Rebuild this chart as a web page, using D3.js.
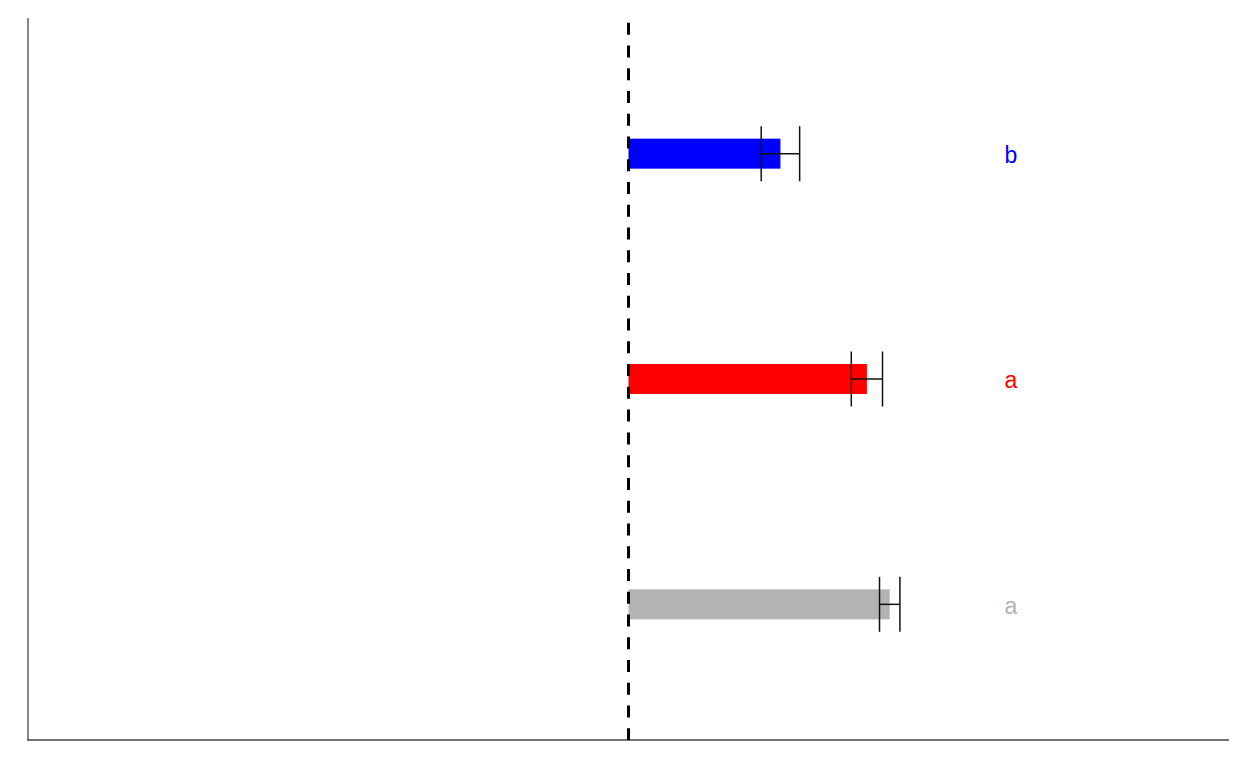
<!DOCTYPE html>
<html><head><meta charset="utf-8">
<script src="https://cdn.jsdelivr.net/npm/d3@7"></script>
<style>body{margin:0;background:#fff}</style>
</head><body>
<svg id="c" width="1248" height="768"></svg>
<script>
const categories = ["b_group", "a_group", "control"];
const values = [0.253, 0.397, 0.435];
const errors = [0.032, 0.026, 0.017];
const labels = ["b", "a", "a"];
const colors = ["#0000FF", "#FF0000", "#B3B3B3"];

const svg = d3.select("#c");
const x = d3.scaleLinear().domain([-1, 1]).range([28, 1229]);
const y = d3.scalePoint().domain(categories).range([18, 740]).padding(0.602);
const barH = 30, capH = 55;

// axes
svg.append("line").attr("x1", 28).attr("x2", 28).attr("y1", 18).attr("y2", 740.6)
  .attr("stroke", "#444").attr("stroke-width", 1.3);
svg.append("line").attr("x1", 27.4).attr("x2", 1229).attr("y1", 740).attr("y2", 740)
  .attr("stroke", "#444").attr("stroke-width", 1.3);

const g = svg.append("g");
categories.forEach((c, i) => {
  const cy = y(c);
  g.append("rect").attr("x", x(0)).attr("y", cy - barH / 2)
    .attr("width", x(values[i]) - x(0)).attr("height", barH).attr("fill", colors[i]);
  const lo = x(values[i] - errors[i]), hi = x(values[i] + errors[i]);
  g.append("line").attr("x1", lo).attr("x2", hi).attr("y1", cy).attr("y2", cy)
    .attr("stroke", "#111").attr("stroke-width", 1.5);
  [lo, hi].forEach(px => g.append("line").attr("x1", px).attr("x2", px)
    .attr("y1", cy - capH / 2).attr("y2", cy + capH / 2)
    .attr("stroke", "#111").attr("stroke-width", 1.5));
  g.append("text").attr("x", x(0.637)).attr("y", cy + 9.3)
    .attr("text-anchor", "middle")
    .attr("font-family", "Liberation Sans, Arial, sans-serif").attr("font-size", 23)
    .attr("fill", colors[i]).text(labels[i]);
});

// dashed zero line
svg.append("line").attr("x1", x(0)).attr("x2", x(0)).attr("y1", 22.7).attr("y2", 740)
  .attr("stroke", "#000").attr("stroke-width", 3).attr("stroke-dasharray", "12 10.76");
</script>
</body></html>
